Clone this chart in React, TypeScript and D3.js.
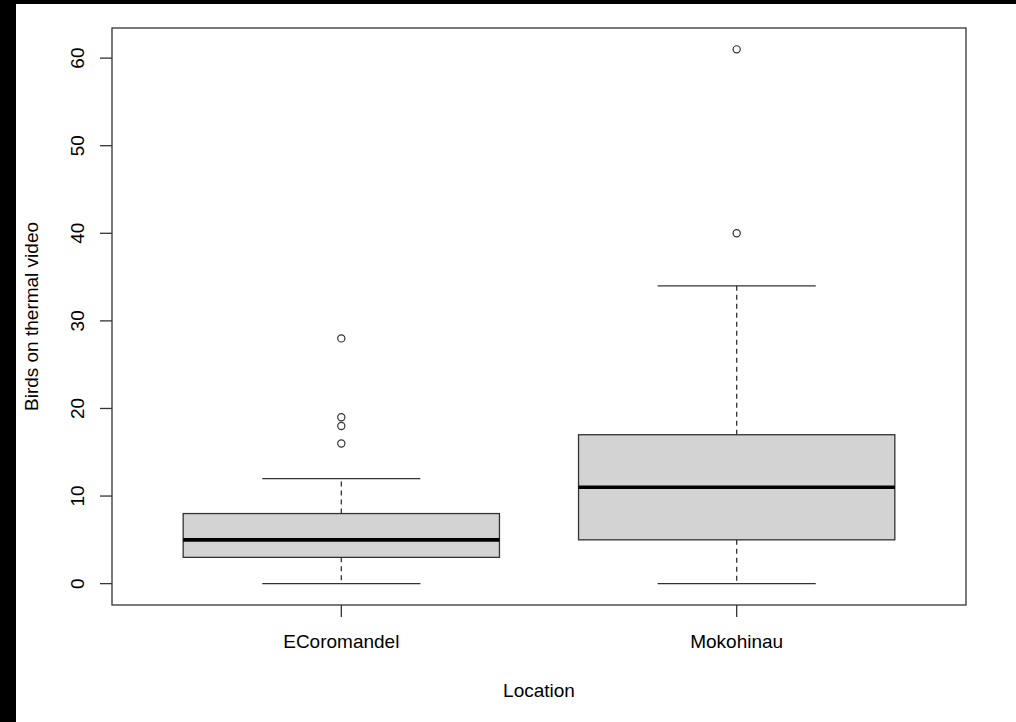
import React from "react";
import * as d3 from "d3";

const categories = ["ECoromandel", "Mokohinau"];
const whiskerLow = [0, 0];
const q1 = [3, 5];
const median = [5, 11];
const q3 = [8, 17];
const whiskerHigh = [12, 34];
const outliers = [
  [16, 18, 19, 28],
  [40, 61],
];
const yTicks = [0, 10, 20, 30, 40, 50, 60];
const xLabel = "Location";
const yLabel = "Birds on thermal video";

const W = 1016;
const H = 722;
const plot = { left: 112, right: 966, top: 28, bottom: 605 };
const FONT = "'Liberation Sans', Arial, sans-serif";
const LINE = "#333";

export default function App() {
  const allVals = [...whiskerLow, ...whiskerHigh, ...outliers.flat()];
  const lo = d3.min(allVals) as number;
  const hi = d3.max(allVals) as number;
  const pad = (hi - lo) * 0.04;
  const y = d3.scaleLinear().domain([lo - pad, hi + pad]).range([plot.bottom, plot.top]);
  const n = categories.length;
  const xPad = n * 0.04;
  const x = d3.scaleLinear().domain([0.5 - xPad, n + 0.5 + xPad]).range([plot.left, plot.right]);
  const boxHalf = x(1.4) - x(1);
  const capHalf = x(1.2) - x(1);

  return (
    <svg
      width={W}
      height={H}
      style={{ position: "absolute", left: 0, top: 0, display: "block" }}
    >
      <rect x={0} y={0} width={W} height={H} fill="#000" />
      <rect x={16} y={4} width={W - 16} height={H - 4} fill="#fff" />

      {categories.map((c, i) => {
        const cx = x(i + 1);
        return (
          <g key={c}>
            <line x1={cx} x2={cx} y1={y(q3[i])} y2={y(whiskerHigh[i])} stroke={LINE} strokeWidth={1.3} strokeDasharray="5,4" />
            <line x1={cx} x2={cx} y1={y(q1[i])} y2={y(whiskerLow[i])} stroke={LINE} strokeWidth={1.3} strokeDasharray="5,4" />
            <line x1={cx - capHalf} x2={cx + capHalf} y1={y(whiskerHigh[i])} y2={y(whiskerHigh[i])} stroke={LINE} strokeWidth={1.3} />
            <line x1={cx - capHalf} x2={cx + capHalf} y1={y(whiskerLow[i])} y2={y(whiskerLow[i])} stroke={LINE} strokeWidth={1.3} />
            <rect
              x={cx - boxHalf}
              y={y(q3[i])}
              width={boxHalf * 2}
              height={y(q1[i]) - y(q3[i])}
              fill="#d3d3d3"
              stroke={LINE}
              strokeWidth={1.3}
            />
            <line x1={cx - boxHalf} x2={cx + boxHalf} y1={y(median[i])} y2={y(median[i])} stroke="#000" strokeWidth={3.6} />
            {outliers[i].map((v, j) => (
              <circle key={j} cx={cx} cy={y(v)} r={3.6} fill="none" stroke={LINE} strokeWidth={1.2} />
            ))}
          </g>
        );
      })}

      <rect
        x={plot.left}
        y={plot.top}
        width={plot.right - plot.left}
        height={plot.bottom - plot.top}
        fill="none"
        stroke={LINE}
        strokeWidth={1.3}
      />

      {yTicks.map((t) => (
        <g key={t}>
          <line x1={plot.left - 12} x2={plot.left} y1={y(t)} y2={y(t)} stroke={LINE} strokeWidth={1.3} />
          <text
            transform={`translate(84,${y(t)}) rotate(-90)`}
            textAnchor="middle"
            fontFamily={FONT}
            fontSize={19}
            fill="#000"
          >
            {t}
          </text>
        </g>
      ))}

      {categories.map((c, i) => (
        <g key={c}>
          <line x1={x(i + 1)} x2={x(i + 1)} y1={plot.bottom} y2={plot.bottom + 12} stroke={LINE} strokeWidth={1.3} />
          <text x={x(i + 1)} y={648} textAnchor="middle" fontFamily={FONT} fontSize={19} fill="#000">
            {c}
          </text>
        </g>
      ))}

      <text x={(plot.left + plot.right) / 2} y={697} textAnchor="middle" fontFamily={FONT} fontSize={19} fill="#000">
        {xLabel}
      </text>
      <text
        transform={`translate(38,${(plot.top + plot.bottom) / 2}) rotate(-90)`}
        textAnchor="middle"
        fontFamily={FONT}
        fontSize={19}
        fill="#000"
      >
        {yLabel}
      </text>
    </svg>
  );
}
